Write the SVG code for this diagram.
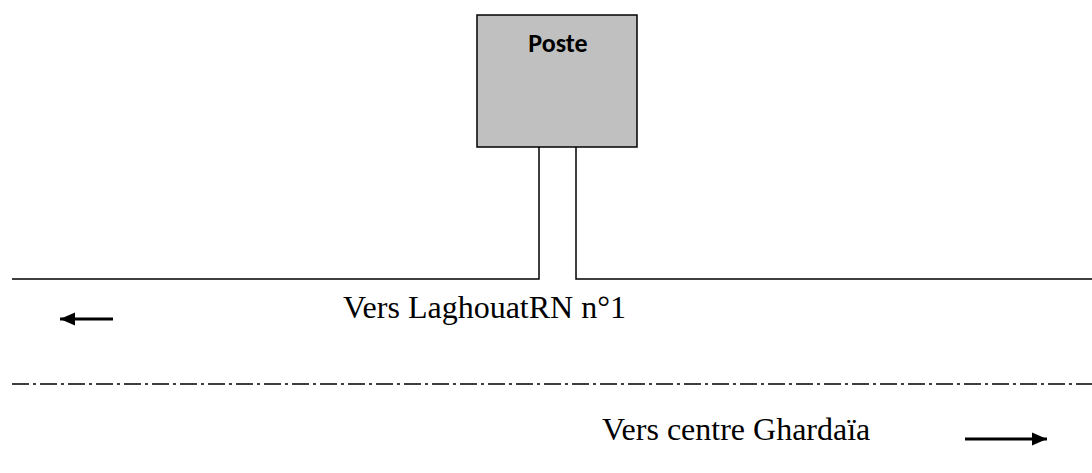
<svg xmlns="http://www.w3.org/2000/svg" width="1092" height="473" viewBox="0 0 1092 473">
<style>
.ln{fill:none;stroke:#000;stroke-width:1.5}
.t{font-family:"Liberation Serif","Times New Roman",serif;font-size:32px;fill:#000}
</style>
<defs>
<marker id="ah" markerWidth="16" markerHeight="14" refX="15" refY="7" orient="auto" markerUnits="userSpaceOnUse">
<path d="M0,0.5 L15,7 L0,13.5 Z" fill="#000"/>
</marker>
</defs>
<rect width="1092" height="473" fill="#fff"/>
<g id="poste">
<rect x="477" y="15" width="160" height="132" fill="#c0c0c0" stroke="#000" stroke-width="1.5"/>
<text x="558" y="52" text-anchor="middle" font-family="Carlito,'Liberation Sans',sans-serif" font-weight="bold" font-size="26">Poste</text>
</g>
<g id="connectors">
<path class="ln" d="M12,279 H539 V147"/>
<path class="ln" d="M1092,279 H576 V147"/>
<path fill="none" stroke="#000" stroke-width="1.5" stroke-dasharray="17,4,3,4" d="M12,384 H1092"/>
<path fill="none" stroke="#000" stroke-width="3" d="M113,319 H60" marker-end="url(#ah)"/>
<path fill="none" stroke="#000" stroke-width="3" d="M965,439 H1047" marker-end="url(#ah)"/>
</g>
<g id="labels">
<text class="t" x="343" y="318">Vers LaghouatRN n°1</text>
<text class="t" x="602" y="440">Vers centre Ghardaïa</text>
</g>
</svg>
